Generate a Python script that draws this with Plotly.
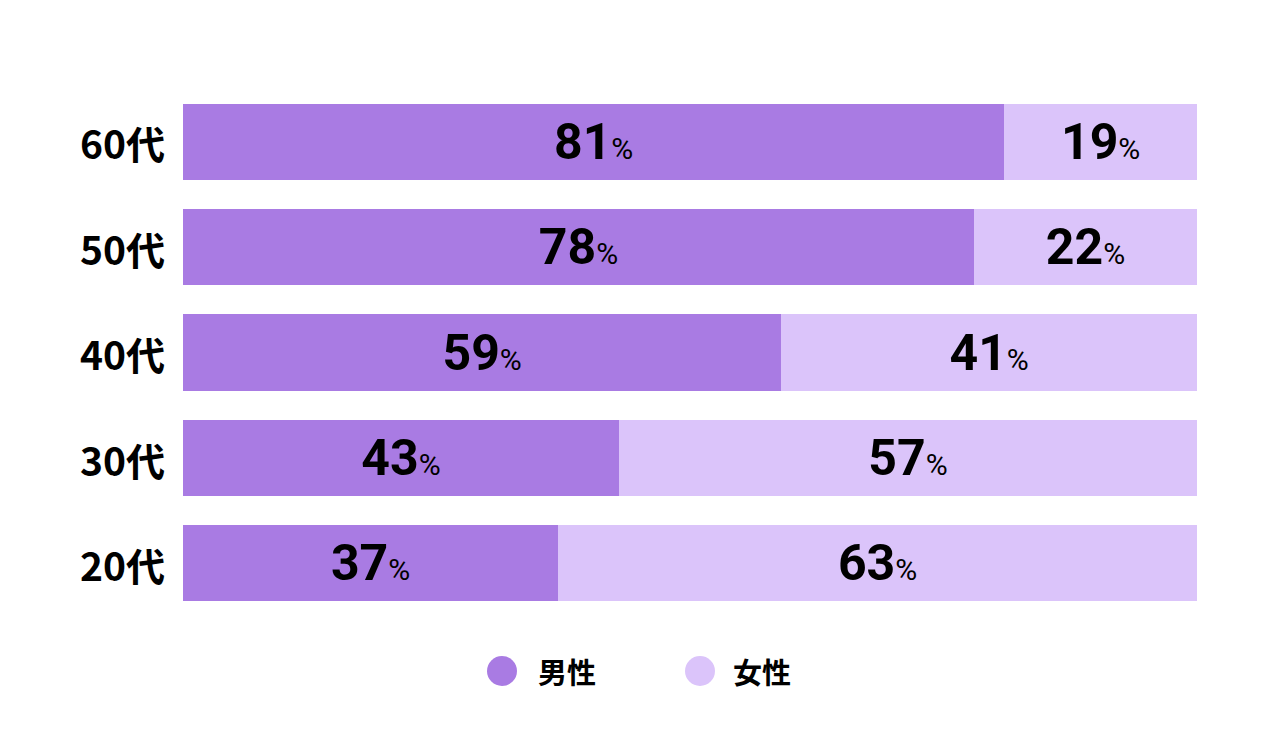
import plotly.graph_objects as go

categories = ["20代", "30代", "40代", "50代", "60代"]
male = [37, 43, 59, 78, 81]
female = [63, 57, 41, 22, 19]
series_names = ["男性", "女性"]
colors = ["#A97BE3", "#DBC4FA"]

W, H = 1280, 750
OFF = 8  # page body margin
ML, MR, MT, MB = 183 - OFF, 83 + OFF, 89 - OFF, 134 + OFF
PW, PH = W - ML - MR, H - MT - MB

num_font = "Roboto, 'Noto Sans CJK JP', sans-serif"
jp_font = "'Noto Sans CJK JP', 'Noto Sans', sans-serif"

def lbl(v):
    return [f"<b>{x}</b><span style='font-size:30px'>%</span>" for x in v]

fig = go.Figure()
for name, vals, col in zip(series_names, [male, female], colors):
    fig.add_trace(go.Bar(
        y=categories, x=vals, name=name, orientation="h",
        marker=dict(color=col, line=dict(width=0)),
        text=lbl(vals), texttemplate="%{text}",
        textposition="inside", insidetextanchor="middle",
        textangle=0, constraintext="none",
        textfont=dict(family=num_font, size=50, color="#000000"),
        showlegend=False, hoverinfo="skip",
    ))

fig.update_layout(
    width=W, height=H, barmode="stack", bargap=0.276,
    margin=dict(l=ML, r=MR, t=MT, b=MB),
    paper_bgcolor="white", plot_bgcolor="white",
    xaxis=dict(range=[0, 100], visible=False, fixedrange=True),
    yaxis=dict(showgrid=False, zeroline=False, showline=False, ticks="",
               tickfont=dict(family=jp_font, size=39, color="#000000"),
               ticklabelstandoff=17, ticklabelshift=4,
               categoryorder="array", categoryarray=categories),
)
fig.update_yaxes(ticktext=[f"<b>{c}</b>" for c in categories], tickvals=categories)

# custom legend with large circles
leg_y = (H - MB - (671 - OFF)) / PH
for name, col, cx, tx in zip(series_names, colors, [502, 700], [536, 731]):
    fig.add_shape(type="circle", xref="paper", yref="paper",
                  xsizemode="pixel", ysizemode="pixel",
                  xanchor=(cx - OFF - ML) / PW, yanchor=leg_y,
                  x0=-15, x1=15, y0=-15, y1=15,
                  fillcolor=col, line=dict(width=0))
    fig.add_annotation(xref="paper", yref="paper", x=(tx - OFF - ML) / PW, y=leg_y,
                       xanchor="left", yanchor="middle", showarrow=False,
                       text=f"<b>{name}</b>",
                       font=dict(family=jp_font, size=29, color="#000000"))

fig.write_html("out.html")
